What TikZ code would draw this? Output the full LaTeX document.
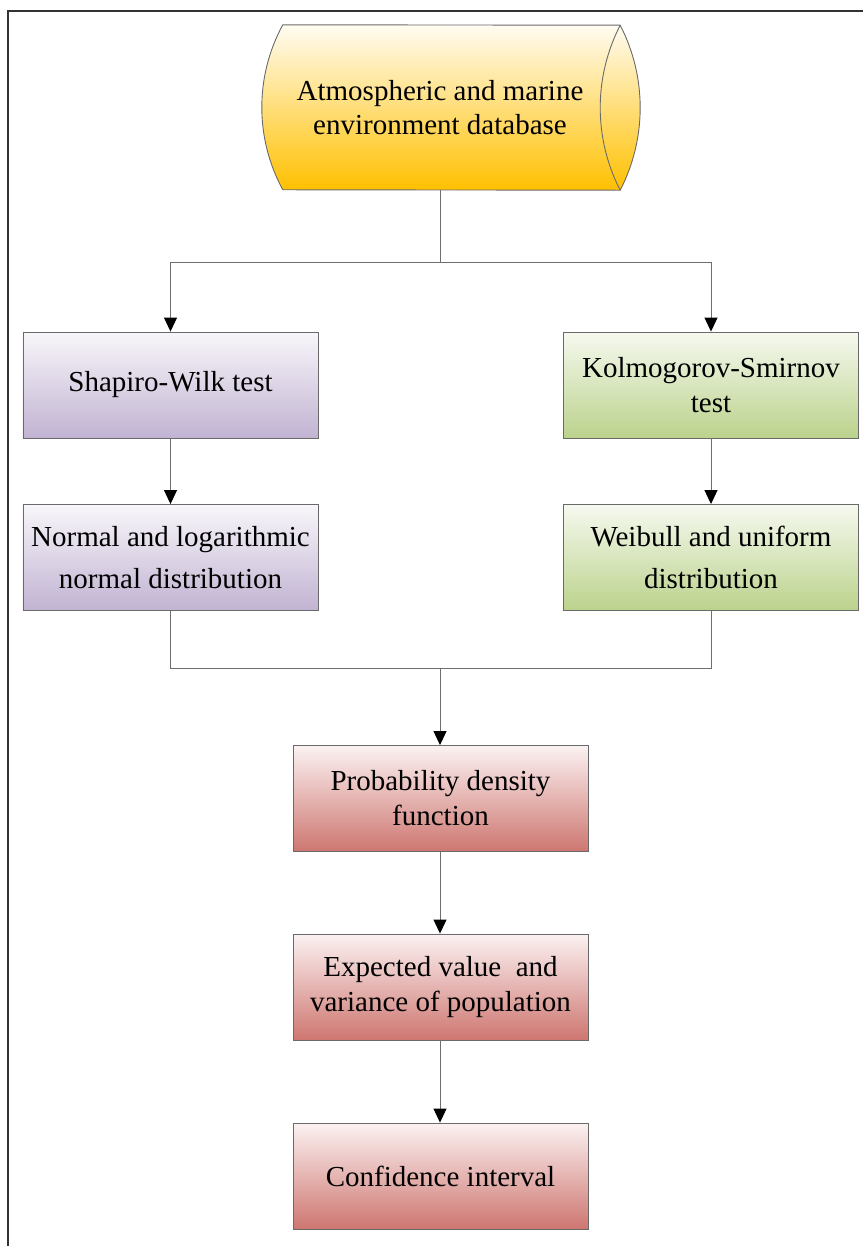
\documentclass[tikz,border=0pt]{standalone}
\usepackage{fontspec}
\setmainfont{Liberation Serif}
\usetikzlibrary{arrows.meta}
\definecolor{boxline}{HTML}{6A6A6A}
\definecolor{conn}{HTML}{6E6E6E}
\definecolor{dbtop}{HTML}{FFFCF2}
\definecolor{dbbot}{HTML}{FFC000}
\definecolor{putop}{HTML}{F8F6FA}
\definecolor{pubot}{HTML}{C1B3D2}
\definecolor{grtop}{HTML}{F6F9EF}
\definecolor{grbot}{HTML}{BBD28C}
\definecolor{retop}{HTML}{FBF2F2}
\definecolor{rebot}{HTML}{CE7670}
\begin{document}
\begin{tikzpicture}[x=1bp,y=1bp,
  box/.style={draw=boxline, line width=0.9bp, minimum width=295bp, minimum height=106bp,
    align=center, inner sep=0pt, font=\fontsize{29bp}{35bp}\selectfont},
  widebox/.style={box, font=\fontsize{29bp}{42bp}\selectfont},
  purplebox/.style={top color=putop, bottom color=pubot},
  greenbox/.style={top color=grtop, bottom color=grbot},
  redbox/.style={top color=retop, bottom color=rebot},
  link/.style={draw=conn, line width=1bp},
  arr/.style={link, -{Triangle[width=13bp,length=14bp,black]}}
]
\useasboundingbox (0,0) rectangle (863,-1246);
% frame
\draw[line width=2bp, black!80] (8,-1246) -- (8,-10.5) -- (863,-10.5);

% database cylinder
\node[minimum width=337bp, minimum height=165bp, inner sep=0pt] (db) at (451.5,-107.5) {};
\path[draw=boxline, line width=0.9bp, top color=dbtop, bottom color=dbbot]
  (db.north west) arc[start angle=151.43, end angle=208.57, radius=172.5]
  -- (db.south east) arc[start angle=-27.25, end angle=27.25, radius=180.2] -- cycle;
\draw[boxline, line width=0.9bp] (db.south east) arc[start angle=207.25, end angle=152.75, radius=180.2];
\node[align=center, font=\fontsize{29bp}{34bp}\selectfont, inner sep=0pt] (dbtext) at (440,-108)
  {Atmospheric and marine\\environment database};

% boxes
\node[box, purplebox] (sw) at (170.5,-385) {Shapiro-Wilk test};
\node[box, greenbox] (ks) at (711,-385) {Kolmogorov-Smirnov\\test};
\node[widebox, purplebox] (nd) at (170.5,-557.5) {Normal and logarithmic\\normal distribution};
\node[widebox, greenbox] (wd) at (711,-557.5) {Weibull and uniform\\distribution};
\node[box, redbox] (pdf) at (440.5,-798.5) {Probability density\\function};
\node[box, redbox] (ev) at (440.5,-987) {Expected value \ and\\variance of population};
\node[box, redbox] (ci) at (440.5,-1176) {Confidence interval};

% connectors
\coordinate (j1) at (440,-262);
\coordinate (j2) at (440,-668);
\draw[link] (db.south -| j1) -- (j1);
\draw[arr] (j1) -| (sw.north);
\draw[arr] (j1) -| (ks.north);
\draw[arr] (sw) -- (nd);
\draw[arr] (ks) -- (wd);
\draw[link] (nd.south) |- (j2);
\draw[link] (wd.south) |- (j2);
\draw[arr] (j2) -- (pdf.north -| j2);
\draw[arr] (pdf.south -| j2) -- (ev.north -| j2);
\draw[arr] (ev.south -| j2) -- (ci.north -| j2);
\end{tikzpicture}
\end{document}
